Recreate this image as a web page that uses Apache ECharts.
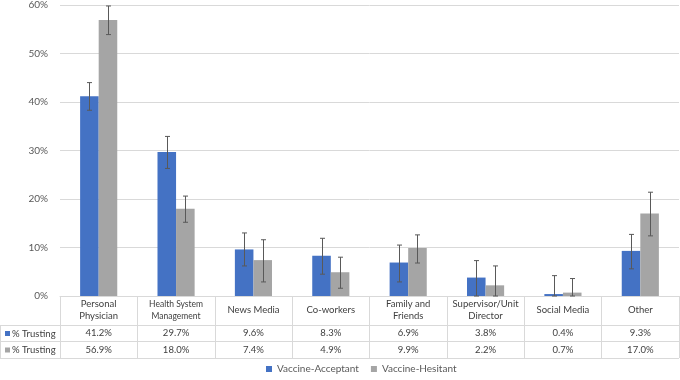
<!DOCTYPE html>
<html><head><meta charset="utf-8">
<script src="https://cdn.jsdelivr.net/npm/echarts@6/dist/echarts.min.js"></script>
<style>html,body{margin:0;padding:0;background:#fff}#c{width:680px;height:380px}</style>
</head><body><div id="c"></div>
<script>
const categories = ['Personal\nPhysician','Health System\nManagement','News Media','Co-workers','Family and\nFriends','Supervisor/Unit\nDirector','Social Media','Other'];
const seriesNames = ['Vaccine-Acceptant','Vaccine-Hesitant'];
const rowLabel = '% Trusting';
const acceptant = [41.2,29.7,9.6,8.3,6.9,3.8,0.4,9.3];
const hesitant = [56.9,18.0,7.4,4.9,9.9,2.2,0.7,17.0];
const acceptantLow = [38.3,26.3,6.2,4.5,2.9,0.0,0.0,5.6];
const acceptantHigh = [44.0,32.9,13.0,11.9,10.5,7.3,4.2,12.7];
const hesitantLow = [53.9,15.2,2.9,1.6,6.8,0.0,0.0,12.4];
const hesitantHigh = [59.8,20.6,11.6,8.0,12.6,6.2,3.6,21.4];
const yMin = 0, yMax = 60, yStep = 10;

const BLUE = '#4472C4', GRAY = '#A5A5A5', LINE = '#d9d9d9', TXT = '#404040';
const FONT = 'Lato';

function errRender(side){
  return function(params, api){
    const i = api.value(0);
    const lo = api.coord([i, api.value(1)]);
    const hi = api.coord([i, api.value(2)]);
    const band = api.size([1,0])[0];
    const x = Math.round(lo[0] + side*band*0.12) + 0.5;
    const cap = 2.5;
    const style = {stroke:'#595959', lineWidth:1};
    return {type:'group', children:[
      {type:'line', shape:{x1:x,y1:hi[1],x2:x,y2:lo[1]}, style},
      {type:'line', shape:{x1:x-cap,y1:hi[1],x2:x+cap,y2:hi[1]}, style},
      {type:'line', shape:{x1:x-cap,y1:lo[1],x2:x+cap,y2:lo[1]}, style}
    ]};
  };
}

const chart = echarts.init(document.getElementById('c'));
const valueAxis = (arr, margin) => ({
  type:'category', data:categories, position:'bottom', gridIndex:0,
  axisLine:{show:false}, axisTick:{show:false}, splitLine:{show:false},
  axisLabel:{interval:0, margin:margin, verticalAlign:'middle', fontSize:9.5, fontFamily:FONT, color:TXT,
    formatter:(v,i)=>arr[i].toFixed(1)+'%'}
});
chart.setOption({
  animation:false,
  textStyle:{fontFamily:FONT},
  grid:{left:60, right:1, top:4, bottom:84},
  legend:{
    data:seriesNames, top:362, left:261, padding:[2,5,2,5], icon:'rect', itemWidth:6, itemHeight:6, itemGap:12,
    textStyle:{fontSize:10, color:'#595959', fontFamily:FONT}
  },
  xAxis:[
    {type:'category', data:categories,
      axisLine:{lineStyle:{color:LINE}},
      axisTick:{show:true, length:62, interval:0, lineStyle:{color:LINE}},
      axisLabel:{interval:0, margin:14, verticalAlign:'middle', lineHeight:12, fontSize:9.5, fontFamily:FONT, color:TXT,
        formatter:(v)=> v.indexOf('Health')===0 ? v.split('\n').map(s=>'{s|'+s+'}').join('\n') : v,
        rich:{s:{fontSize:8.5, lineHeight:12, fontFamily:FONT, color:TXT}}}
    },
    valueAxis(acceptant, 37),
    valueAxis(hesitant, 53.5)
  ],
  yAxis:{type:'value', min:yMin, max:yMax, interval:yStep,
    axisLine:{show:false}, axisTick:{show:false},
    splitLine:{lineStyle:{color:LINE}},
    axisLabel:{formatter:'{value}%', fontSize:10, color:'#595959', fontFamily:FONT, margin:12}
  },
  series:[
    {name:seriesNames[0], type:'bar', data:acceptant, itemStyle:{color:BLUE}, barGap:'0%', barCategoryGap:'52%'},
    {name:seriesNames[1], type:'bar', data:hesitant, itemStyle:{color:GRAY}, barGap:'0%', barCategoryGap:'52%'},
    {type:'custom', renderItem:errRender(-1), data:categories.map((c,i)=>[i, acceptantLow[i], acceptantHigh[i]]), z:5, silent:true},
    {type:'custom', renderItem:errRender(1), data:categories.map((c,i)=>[i, hesitantLow[i], hesitantHigh[i]]), z:5, silent:true}
  ],
  graphic:[
    {type:'line', shape:{x1:0, y1:325.5, x2:679, y2:325.5}, style:{stroke:LINE, lineWidth:1}},
    {type:'line', shape:{x1:0, y1:341.5, x2:679, y2:341.5}, style:{stroke:LINE, lineWidth:1}},
    {type:'line', shape:{x1:0, y1:358.5, x2:679, y2:358.5}, style:{stroke:LINE, lineWidth:1}},
    {type:'line', shape:{x1:0.5, y1:325, x2:0.5, y2:358}, style:{stroke:LINE, lineWidth:1}},
    {type:'rect', shape:{x:5, y:331, width:5, height:5}, style:{fill:BLUE}},
    {type:'text', x:12, y:333.5, style:{text:rowLabel, fontSize:9.5, fontFamily:FONT, fill:TXT, verticalAlign:'middle'}},
    {type:'rect', shape:{x:5, y:347.5, width:5, height:5}, style:{fill:GRAY}},
    {type:'text', x:12, y:350, style:{text:rowLabel, fontSize:9.5, fontFamily:FONT, fill:TXT, verticalAlign:'middle'}}
  ]
});
</script></body></html>
